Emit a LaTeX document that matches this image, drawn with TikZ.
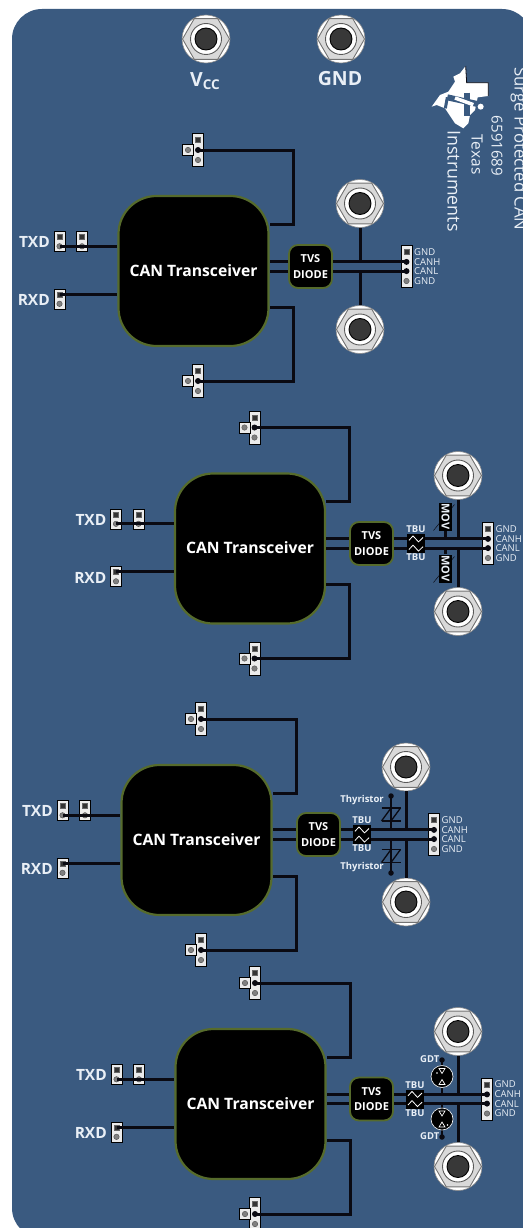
\documentclass[tikz,border=0pt]{standalone}
\usepackage{fontspec}
\usepackage{xcolor}
\setmainfont{Open Sans}
\usetikzlibrary{positioning, arrows.meta, shapes.geometric, calc}
\definecolor{Board}{HTML}{3A5A80}
\definecolor{Olive}{HTML}{566B2C}
\definecolor{Copper}{HTML}{0A0A12}
\definecolor{Label}{HTML}{E9EFF6}
\definecolor{Rim}{HTML}{8C8C8C}

\tikzset{
    chip/.style={draw=Olive, line width=2.2pt, fill=black, rounded corners=38pt, minimum size=150pt, inner sep=0pt, text=white, font=\bfseries\fontsize{15.7}{18}\selectfont},
    tvs/.style={draw=Olive, line width=1.8pt, fill=black, rounded corners=9pt, minimum size=43pt, inner sep=0pt, align=center, text=white, font=\bfseries\fontsize{11}{15.5}\selectfont},
    trace/.style={draw=Copper, line width=3pt},
    hbody/.style={draw=black, line width=.7pt, fill=white!92!black, inner sep=0pt},
    sqpin/.style={draw=black!60, fill=black!80, minimum size=5pt, inner sep=0pt},
    rdpin/.style={circle, draw=black!70, fill=black!50, minimum size=5.5pt, inner sep=0pt},
    blkpin/.style={circle, fill=Copper, minimum size=6pt, inner sep=0pt},
    jackrim/.style={circle, draw=Rim, line width=.6pt, fill=white, minimum size=48pt, inner sep=0pt},
    jackhex/.style={regular polygon, regular polygon sides=6, draw=black!55, line width=.9pt, fill=black!15, minimum size=47pt, inner sep=0pt},
    jackring/.style={circle, draw=black!65, line width=.9pt, fill=white, minimum size=31pt, inner sep=0pt},
    jackbore/.style={circle, draw=black, line width=.9pt, fill=black!78, minimum size=22pt, inner sep=0pt},
    biglbl/.style={text=Label, font=\bfseries\fontsize{15.5}{18}\selectfont, inner sep=0pt},
    powerlbl/.style={text=Label, font=\bfseries\fontsize{19.5}{22}\selectfont, inner sep=0pt},
    pinlbl/.style={text=Label, anchor=west, font=\fontsize{9.5}{10}\selectfont, inner sep=0pt},
    partlbl/.style={text=Label, font=\bfseries\fontsize{9.5}{10}\selectfont, inner sep=0pt},
    boardlbl/.style={text=Label, rotate=-90, inner sep=0pt},
    tbubox/.style={fill=black, minimum width=18pt, minimum height=19pt, inner sep=0pt},
    movbox/.style={fill=black, rotate=-90, minimum width=28pt, minimum height=13pt, inner sep=0pt, text=Label, font=\bfseries\fontsize{11}{12}\selectfont},
    gdtbody/.style={circle, draw=white, line width=.6pt, fill=black, minimum size=22pt, inner sep=0pt},
    solder/.style={circle, fill=Copper, minimum size=5.5pt, inner sep=0pt},
    thinline/.style={draw=Copper, line width=1.3pt},
    whiteline/.style={draw=white, line width=.8pt}
}

% one panel jack
\newcommand{\jack}[2]{
    \node[jackrim] (#1) at (#2) {};
    \node[jackhex] (#1hex) at (#2) {};
    \node[jackring] (#1ring) at (#2) {};
    \node[jackbore] (#1bore) at (#2) {};
}
% T shaped header, the middle pin is (#1)
\newcommand{\theader}[2]{
    \begin{scope}[shift={(#2)}]
        \node[hbody, minimum width=11pt, minimum height=33pt] (#1body) at (0,0) {};
        \node[hbody, minimum width=11pt, minimum height=11pt] (#1side) at (-10,0) {};
        \node[sqpin] (#1top) at (0,-10) {};
        \node[blkpin] (#1) at (0,0) {};
        \node[rdpin] (#1bot) at (0,10) {};
        \node[rdpin] (#1left) at (-10,0) {};
    \end{scope}
}
% two pin jumper, (#1a) is the square pin and (#1b) the round one
\newcommand{\jumper}[2]{
    \begin{scope}[shift={(#2)}]
        \node[hbody, minimum width=11pt, minimum height=20pt] (#1body) at (0,0) {};
        \node[sqpin] (#1a) at (0,-4.8) {};
        \node[rdpin] (#1b) at (0,4.8) {};
    \end{scope}
}
% transceiver with its jumpers and headers
\newcommand{\canchip}[2]{
    \begin{scope}[shift={(#2)}]
        \node[chip] (#1chip) at (193.5,271) {\raisebox{1pt}{CAN Transceiver}};
        \jumper{#1txa}{59.5,241.5}
        \jumper{#1txb}{82,241.5}
        \jumper{#1rx}{59.5,299}
        \node[biglbl, anchor=east] (#1txlbl) at (50,242) {TXD};
        \node[biglbl, anchor=east] (#1rxlbl) at (50,300) {RXD};
        \theader{#1up}{198,150}
        \theader{#1dn}{198,381}
        \coordinate (#1upbend) at (293,224);
        \coordinate (#1dnbend) at (293,307);
        \draw[trace] (#1txab.center) -- (#1chip.west |- #1txab);
        \draw[trace] (#1rxa.center) -- (#1chip.west |- #1rxa);
        \draw[trace] (#1up.center) -| (#1upbend) -- (#1chip.east |- #1upbend);
        \draw[trace] (#1dn.center) -| (#1dnbend) -- (#1chip.east |- #1dnbend);
    \end{scope}
}
% TVS diode, bus pair, connector and two jacks: #3 jack x, #4 jack spread, #5 connector x
\newcommand{\canbus}[5]{
    \begin{scope}[shift={(#2)}]
        \coordinate (#1m) at (0,0);
        \coordinate (#1h) at (0,-4.6);
        \coordinate (#1l) at (0,4.6);
        \node[tvs] (#1tvs) at (0,0) {TVS\\DIODE};
        \node[hbody, minimum width=11pt, minimum height=42pt] (#1con) at (#5,0) {};
        \node[sqpin] (#1p1) at (#5,-14.5) {};
        \node[blkpin] (#1p2) at (#5,-4.6) {};
        \node[blkpin] (#1p3) at (#5,4.6) {};
        \node[rdpin] (#1p4) at (#5,14.5) {};
        \node[pinlbl] (#1l1) at (#5+7.5,-14.5) {GND};
        \node[pinlbl] (#1l2) at (#5+7.5,-4.6) {CANH};
        \node[pinlbl] (#1l3) at (#5+7.5,4.6) {CANL};
        \node[pinlbl] (#1l4) at (#5+7.5,14.5) {GND};
        \jack{#1ja}{#3,-#4}
        \jack{#1jb}{#3,#4}
        \draw[trace] (#1p2.center) -- (#1tvs.east |- #1p2);
        \draw[trace] (#1p3.center) -- (#1tvs.east |- #1p3);
        \draw[trace] (#1ja.south) -- (#1ja.south |- #1h);
        \draw[trace] (#1jb.north) -- (#1jb.north |- #1l);
    \end{scope}
    \draw[trace] (#1tvs.west |- #1h) -- (#1chip.east |- #1h);
    \draw[trace] (#1tvs.west |- #1l) -- (#1chip.east |- #1l);
}
% TBU pair on the bus
\newcommand{\tbu}[2]{
    \node[tbubox] (#1tbu) at (#2,0) {};
    \node[partlbl] (#1tbua) at (#2,-14) {TBU};
    \node[partlbl] (#1tbub) at (#2,14) {TBU};
    \draw[whiteline] (#2-7,-3.2) -- (#2-3,-7.6) -- (#2+2.5,-1.6) -- (#2+7,-6);
    \draw[whiteline] (#2-7,6) -- (#2-3,1.6) -- (#2+2.5,7.6) -- (#2+7,3.2);
}
\newcommand{\mov}[4]{
    \draw[draw=Copper, line width=.5pt] ($(#2)+(-12,14)$) -- ($(#2)+(9,-12)$);
    \node[movbox] (#1) at (#2) {MOV};
    \draw[trace] (#1.#3) -- (#1.#3 |- #4);
}
\newcommand{\thyristor}[4]{
    \node[solder] (#1dot) at (#3) {};
    \draw[thinline, line width=1.6pt] (#1dot.center) -- (#1dot.center |- #4);
    \begin{scope}[shift={(#2)}]
        \draw[thinline] (-9.5,-6.5) -- (9.5,-6.5);
        \draw[thinline] (-9.5,6.5) -- (10,6.5);
        \draw[thinline] (-9.5,6.5) -- (0,-6.5);
        \draw[thinline] (0,6.5) -- (9.5,-6.5);
    \end{scope}
}
\newcommand{\gdt}[5]{
    \node[solder] (#1dot) at (#3) {};
    \draw[thinline, line width=1.6pt] (#1dot.center) -- (#1dot.center |- #4);
    \node[gdtbody] (#1) at (#2) {};
    \begin{scope}[shift={(#2)}]
        \draw[whiteline, line width=.7pt] (-3,-8) -- (3,-8) -- (0,-3) -- cycle;
        \draw[whiteline, line width=.7pt] (-3,8) -- (3,8) -- (0,3) -- cycle;
        \fill[white] (#5) circle (.9);
    \end{scope}
}

\begin{document}
\begin{tikzpicture}[x=1pt, y=-1pt]
\useasboundingbox (0,0) rectangle (522,1228);
\fill[white] (0,0) rectangle (522,1228);
\fill[Board, rounded corners=30pt] (12,9) rectangle (532,1238);

% power jacks
\jack{vcc}{206,39}
\jack{gnd}{341,39}
\node[powerlbl] (vcclbl) at (205,81) {V{\raisebox{-3pt}{\fontsize{13.5}{14}\selectfont CC}}};
\node[powerlbl] (gndlbl) at (340,79) {GND};

% board text
\node[boardlbl, font=\fontsize{16.8}{19}\selectfont] (title) at (519,149) {Surge Protected CAN};
\node[boardlbl, font=\fontsize{15}{17}\selectfont] (number) at (497,146) {6591689};
\node[boardlbl, font=\fontsize{15.5}{17}\selectfont] (texas) at (477,154.5) {Texas};
\node[boardlbl, font=\fontsize{17.8}{19}\selectfont] (instr) at (454,181) {Instruments};

% logo
\begin{scope}[shift={(440,60)}, scale=1/3]
    \fill[white] (77,18) -- (80,68) -- (145,68) -- (145,108) -- (113,112) -- (105,150) -- (90,165) -- (85,190) -- (70,205) -- (45,190) -- (15,145) -- (-10,135) -- (-25,140) -- (0,105) -- (25,95) -- (45,65) -- (40,50) -- (60,40) -- cycle;
    \draw[Copper, line width=.8pt] (77,18) -- (80,68) -- (145,68) -- (145,108);
    \draw[Board, line width=6pt] (82,98) -- (82,168);
    \draw[Board, line width=6pt] (22,112) -- (112,132);
    \draw[Board, line width=3pt] (22,112) -- (16,145);
    \draw[white, line width=3.5pt] (45,114) -- (100,134);
    \fill[white] (122,140) circle (9);
\end{scope}

% stage with TVS only
\canchip{a}{0,0}
\canbus{a}{310.5,266.5}{49.5}{63}{96}

% stage with MOV
\canchip{b}{56.5,277.5}
\canbus{b}{371.5,543.5}{86.5}{68}{116.5}
\begin{scope}[shift={(bm)}]
    \tbu{b}{44.5}
    \mov{bmova}{74,-27}{east}{bh}
    \mov{bmovb}{74,25}{west}{bl}
\end{scope}

% stage with thyristors
\canchip{c}{3,569}
\canbus{c}{318.5,834.5}{87.5}{67.5}{115.5}
\begin{scope}[shift={(cm)}]
    \tbu{c}{43.5}
    \thyristor{cthya}{72.5,-20}{72.5,-38.5}{ch}
    \thyristor{cthyb}{72.5,21.5}{72.5,38.5}{cl}
    \node[partlbl, anchor=east] (cthyal) at (65.5,-34.5) {Thyristor};
    \node[partlbl, anchor=east] (cthybl) at (65.5,32.5) {Thyristor};
\end{scope}

% stage with GDT
\canchip{d}{57,833}
\canbus{d}{371.5,1099}{86.5}{67.5}{115.5}
\begin{scope}[shift={(dm)}]
    \tbu{d}{43.5}
    \gdt{dgdta}{70.5,-22.5}{70.5,-39}{dh}{-5,-3.5}
    \gdt{dgdtb}{70.5,20}{70.5,38}{dl}{5.5,6}
    \node[partlbl, anchor=east] (dgdtal) at (68,-40) {GDT};
    \node[partlbl, anchor=east] (dgdtbl) at (68,37) {GDT};
\end{scope}

\end{tikzpicture}
\end{document}
